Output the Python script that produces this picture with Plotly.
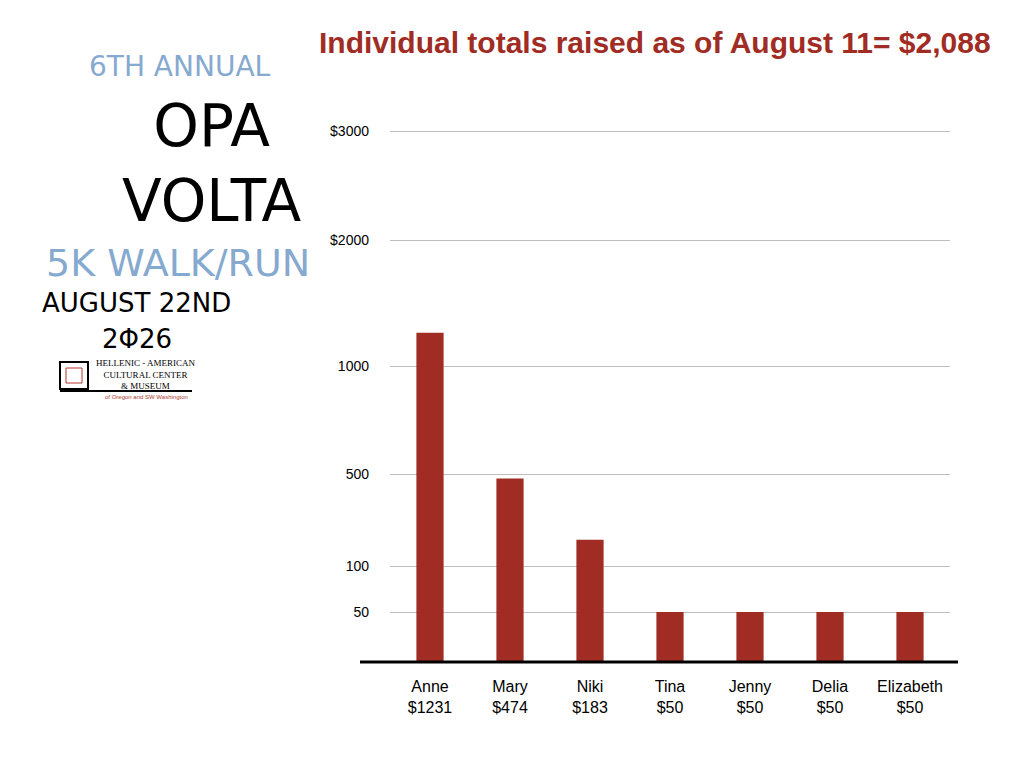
import plotly.graph_objects as go
import numpy as np

names = ["Anne", "Mary", "Niki", "Tina", "Jenny", "Delia", "Elizabeth"]
raised = [1231, 474, 183, 50, 50, 50, 50]

tickValues = [50, 100, 500, 1000, 2000, 3000]
tickLabels = ["50", "100", "500", "1000", "$2000", "$3000"]

# the original axis is hand made and not linear, so map money -> height
# piecewise on sqrt(value) through the gridline heights
scaleValues = [0, 50, 100, 500, 1000, 2000, 3000]
scaleHeights = [0, 50, 96, 188, 296, 422, 531]

def toHeight(values):
    return np.interp(np.sqrt(values), np.sqrt(scaleValues), scaleHeights)

# plot area in pixels, used to place the logo text around it
plotLeft = 390
plotWidth = 560
plotBottom = 662
plotHeight = 562

def paperX(px):
    return (px - plotLeft) / plotWidth

def paperY(py):
    return (plotBottom - py) / plotHeight

barColor = "#A02C24"
logoBlue = "#86A9D0"

xLabels = [n + "<br>$" + str(v) for n, v in zip(names, raised)]

fig = go.Figure(data=[go.Bar(
    x=xLabels,
    y=toHeight(raised),
    customdata=raised,
    hovertemplate="%{x}<extra></extra>",
    marker_color=barColor,
    marker_line_width=0
)])

fig.update_xaxes(
    showgrid=False,
    showline=False,
    ticks="",
    ticklabelstandoff=13,
    tickfont=dict(family="Liberation Sans, Arial, sans-serif", size=16, color="black")
)
fig.update_yaxes(
    range=[0, plotHeight],
    tickvals=list(toHeight(tickValues)),
    ticktext=tickLabels,
    showgrid=True,
    gridcolor="#BEBEBE",
    gridwidth=1,
    zeroline=False,
    showline=False,
    ticks="",
    ticklabelstandoff=20,
    tickfont=dict(family="Liberation Sans, Arial, sans-serif", size=14, color="black")
)

# heavy baseline, wider than the plot area
fig.add_shape(type="line", xref="paper", yref="paper",
              x0=paperX(360), x1=paperX(958), y0=0, y1=0,
              line=dict(color="black", width=3))

fig.add_annotation(
    text="Individual totals raised as of August 11= $2,088",
    xref="paper", yref="paper", x=paperX(655), y=paperY(42),
    showarrow=False, xanchor="center", yanchor="middle",
    font=dict(family="Liberation Sans, Arial", size=30, color=barColor, weight="bold")
)

# event logo, as text
logoFont = "DejaVu Sans, sans-serif"
logo = [
    ("6TH ANNUAL", 180, 67, 28, logoBlue),
    ("OPA<br>VOLTA", 212, 163, 58, "black"),
    ("5K WALK/RUN", 178, 263, 38, logoBlue),
    ("AUGUST 22ND", 136, 303, 26, "black"),
    ("2Φ26", 137, 339, 26, "black"),
]
for text, cx, cy, size, color in logo:
    fig.add_annotation(text=text, xref="paper", yref="paper",
                       x=paperX(cx), y=paperY(cy), showarrow=False,
                       xanchor="center", yanchor="middle",
                       font=dict(family=logoFont, size=size, color=color))

fig.add_annotation(text="HELLENIC - AMERICAN<br>CULTURAL CENTER<br>& MUSEUM",
                   xref="paper", yref="paper", x=paperX(145), y=paperY(374),
                   showarrow=False, xanchor="center", yanchor="middle",
                   font=dict(family="Liberation Serif, serif", size=9, color="black"))
fig.add_annotation(text="of Oregon and SW Washington",
                   xref="paper", yref="paper", x=paperX(146), y=paperY(397),
                   showarrow=False, xanchor="center", yanchor="middle",
                   font=dict(family="Liberation Sans, Arial", size=6, color="#B03A2E"))
# little meander mark and rule under the museum name
fig.add_shape(type="rect", xref="paper", yref="paper",
              x0=paperX(60), x1=paperX(88), y0=paperY(389), y1=paperY(362),
              line=dict(color="black", width=2))
fig.add_shape(type="rect", xref="paper", yref="paper",
              x0=paperX(66), x1=paperX(82), y0=paperY(383), y1=paperY(368),
              line=dict(color="#B03A2E", width=1))
fig.add_shape(type="line", xref="paper", yref="paper",
              x0=paperX(60), x1=paperX(192), y0=paperY(391), y1=paperY(391),
              line=dict(color="black", width=2))

fig.update_layout(
    width=1024,
    height=768,
    margin=dict(l=plotLeft, r=1024 - plotLeft - plotWidth,
                t=plotBottom - plotHeight, b=768 - plotBottom, pad=0),
    bargap=0.66,
    showlegend=False,
    plot_bgcolor="white",
    paper_bgcolor="white"
)

fig.write_html("out.html", config={"displayModeBar": False},
               post_script="document.body.style.margin='0';")
